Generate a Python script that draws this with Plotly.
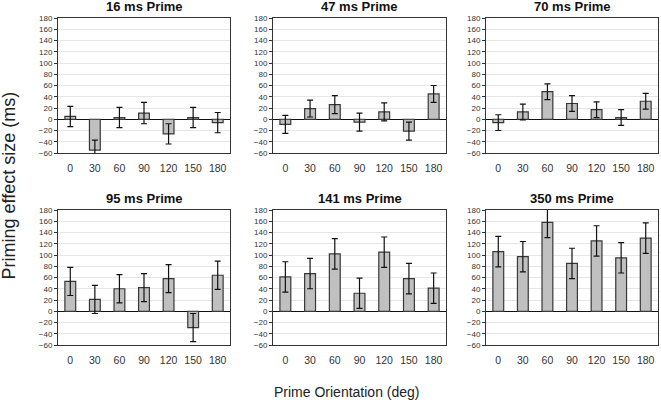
import plotly.graph_objects as go

orientations = ["0", "30", "60", "90", "120", "150", "180"]
titles = ["16 ms Prime", "47 ms Prime", "70 ms Prime", "95 ms Prime", "141 ms Prime", "350 ms Prime"]

v16 = [5, -55, 3, 11, -26, 3, -6]
e16 = [18, 18, 18, 19, 18, 18, 18]
v47 = [-9, 19, 26, -5, 13, -21, 45]
e47 = [16, 15, 16, 16, 16, 16, 15]
v70 = [-6, 13, 49, 28, 17, 3, 32]
e70 = [14, 14, 14, 14, 14, 14, 14]
v95 = [53, 21, 40, 42, 58, -29, 64]
e95 = [25, 25, 25, 25, 25, 25, 25]
v141 = [61, 67, 102, 32, 105, 58, 41]
e141 = [27, 27, 27, 27, 27, 27, 27]
v350 = [106, 97, 158, 85, 125, 95, 130]
e350 = [27, 27, 27, 27, 27, 27, 27]

values = [v16, v47, v70, v95, v141, v350]
errors = [e16, e47, e70, e95, e141, e350]

W, H = 661, 402
xdoms = [(58, 230), (273, 446), (486, 658)]
ydoms = [(18, 153), (210, 345)]

fig = go.Figure()
font = "Liberation Sans, Arial, sans-serif"

for i in range(6):
    r, c = divmod(i, 3)
    n = i + 1
    xa = "x" if n == 1 else f"x{n}"
    ya = "y" if n == 1 else f"y{n}"
    fig.add_trace(go.Bar(
        x=orientations, y=values[i],
        error_y=dict(type="data", array=errors[i], color="#111111", thickness=1.2, width=3),
        marker=dict(color="#c0c0c0", line=dict(color="#383838", width=1.2)),
        width=0.44,
        xaxis=xa, yaxis=ya, showlegend=False, cliponaxis=False,
    ))
    x0, x1 = xdoms[c]
    y0, y1 = ydoms[r]
    xkey = "xaxis" if n == 1 else f"xaxis{n}"
    ykey = "yaxis" if n == 1 else f"yaxis{n}"
    fig.layout[xkey] = dict(
        domain=[x0 / W, x1 / W], anchor=ya, type="category", automargin=False,
        showline=True, mirror=True, linecolor="#333333", linewidth=1,
        ticks="", showgrid=False, ticklabelstandoff=5,
        tickfont=dict(size=10.5, color="#333333", family=font),
    )
    fig.layout[ykey] = dict(
        domain=[1 - y1 / H, 1 - y0 / H], anchor=xa, automargin=False,
        range=[-60, 180], dtick=20, tick0=0,
        showline=True, mirror=True, linecolor="#333333", linewidth=1,
        ticks="outside", ticklen=3, tickcolor="#333333",
        showgrid=True, gridcolor="#e6e6e6", gridwidth=1,
        zeroline=True, zerolinecolor="#111111", zerolinewidth=1,
        tickfont=dict(size=8, color="#333333", family=font),
    )
    fig.add_annotation(
        text=f"<b>{titles[i]}</b>", x=(x0 + x1) / 2 / W, y=1 - (y0 - 11.5) / H,
        xref="paper", yref="paper", showarrow=False,
        xanchor="center", yanchor="middle",
        font=dict(size=13, color="#111111", family=font),
    )

fig.add_annotation(
    text="Priming effect size (ms)", textangle=-90,
    x=8.5 / W, y=1 - 186 / H, xref="paper", yref="paper", showarrow=False,
    xanchor="center", yanchor="middle",
    font=dict(size=18, color="#222222", family=font),
)
fig.add_annotation(
    text="Prime Orientation (deg)",
    x=347 / W, y=1 - 392 / H, xref="paper", yref="paper", showarrow=False,
    xanchor="center", yanchor="middle",
    font=dict(size=14, color="#222222", family=font),
)

fig.update_layout(
    width=W, height=H, margin=dict(l=0, r=0, t=0, b=0),
    paper_bgcolor="white", plot_bgcolor="white", bargap=0.5,
)

fig.write_html("out.html", config={"displayModeBar": False},
               post_script="document.body.style.margin='0px';")
